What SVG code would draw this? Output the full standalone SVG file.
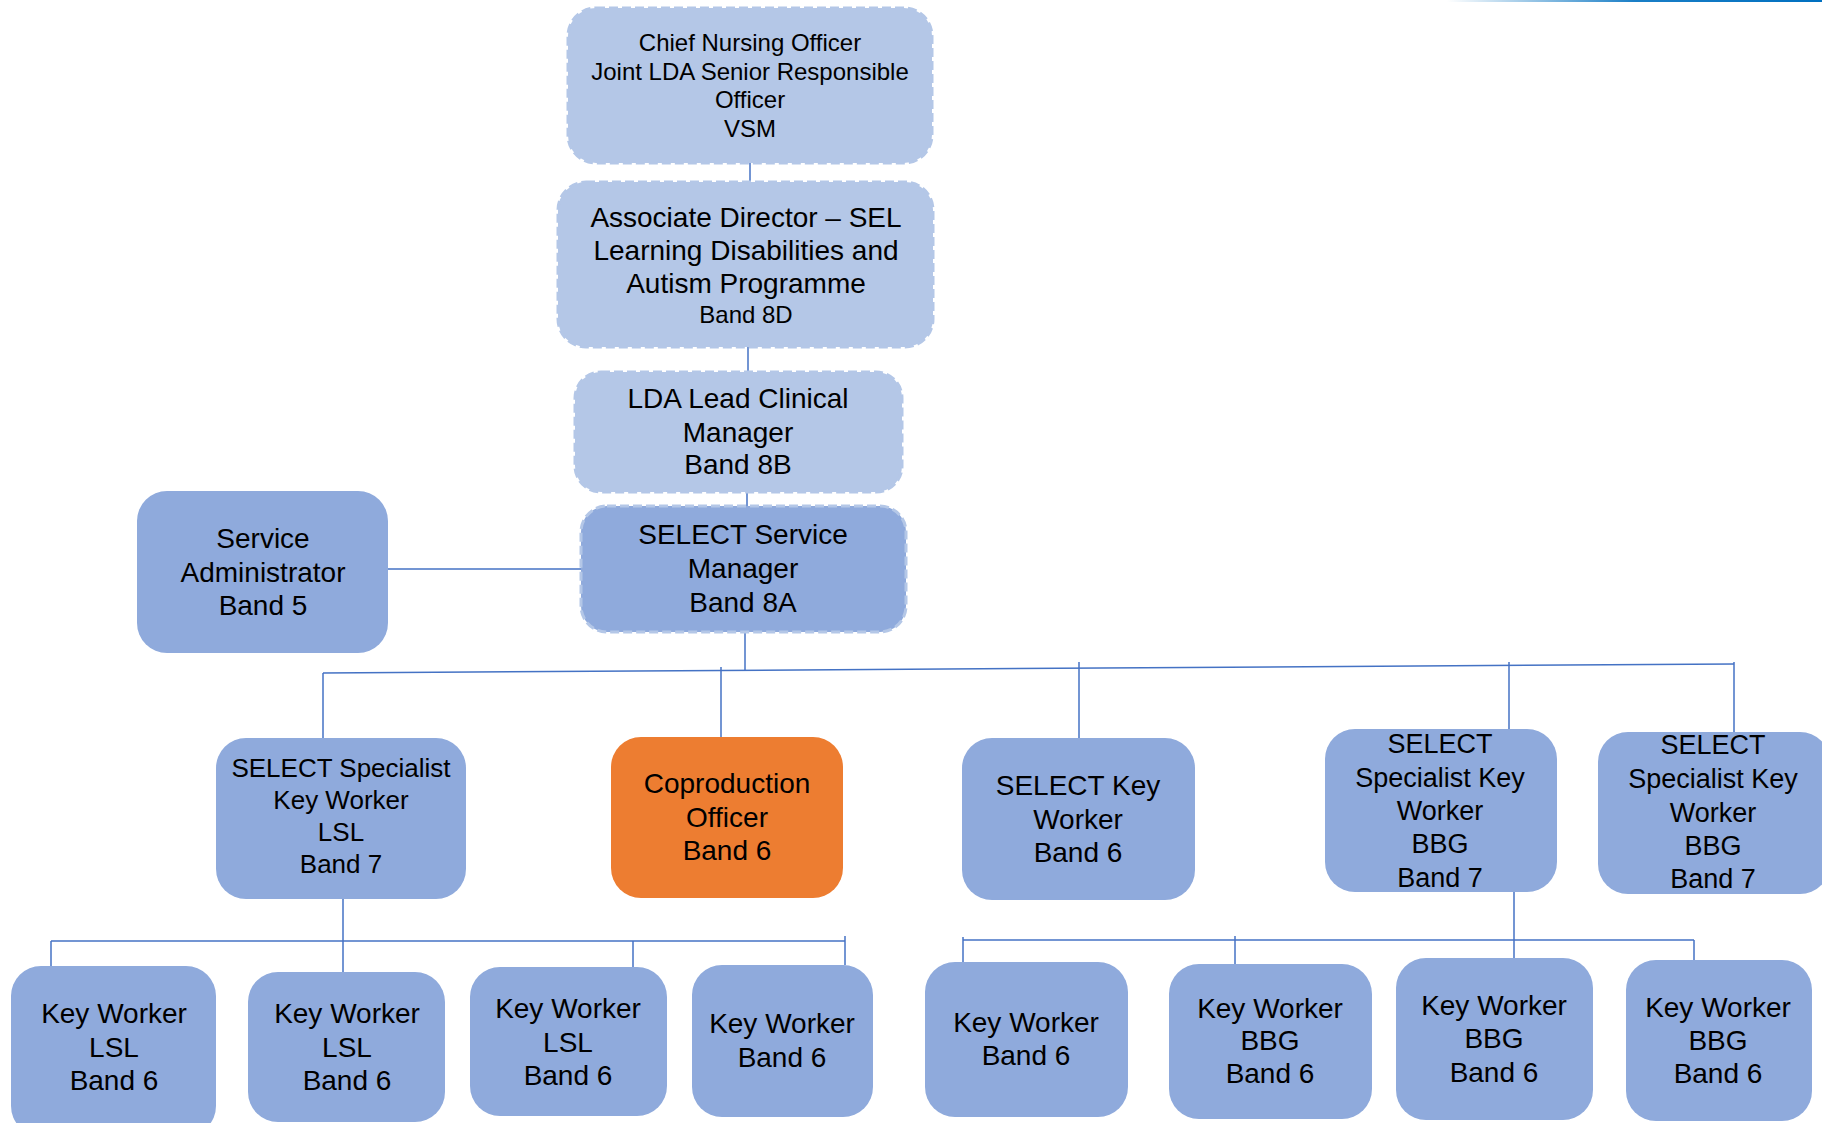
<svg xmlns="http://www.w3.org/2000/svg" width="1822" height="1123" viewBox="0 0 1822 1123">
<defs>
<linearGradient id="topline" x1="0" y1="0" x2="1" y2="0">
<stop offset="0" stop-color="#0070C0" stop-opacity="0"/>
<stop offset="0.5" stop-color="#0070C0" stop-opacity="0.9"/>
<stop offset="1" stop-color="#0070C0"/>
</linearGradient>
</defs>
<style>
text{font-family:"Liberation Sans",Arial,sans-serif;fill:#000;text-anchor:middle}
.light{fill:#B4C7E7;stroke:#B4C7E7;stroke-width:3;stroke-dasharray:9 4}
.mid{fill:#8FAADC;stroke:#B4C7E7;stroke-width:3;stroke-dasharray:9 4}
.blue{fill:#8FAADC}
.orange{fill:#ED7D31}
.conn line{stroke:#4472C4;stroke-width:1.5}
.f24{font-size:24px}
.f26{font-size:26px}
.f27{font-size:27px}
.f28{font-size:28px}
</style>
<rect x="1447" y="0" width="375" height="2" fill="url(#topline)"/>
<g id="connectors" class="conn">
<line x1="750" y1="163" x2="750" y2="182"/>
<line x1="748" y1="347" x2="748" y2="372"/>
<line x1="747" y1="492" x2="747" y2="506"/>
<line x1="388" y1="569" x2="581" y2="569"/>
<line x1="745" y1="632" x2="745" y2="670"/>
<line x1="323" y1="673" x2="1734" y2="664"/>
<line x1="323" y1="673" x2="323" y2="738"/>
<line x1="721" y1="667" x2="721" y2="737"/>
<line x1="1079" y1="662" x2="1079" y2="738"/>
<line x1="1509" y1="662" x2="1509" y2="729"/>
<line x1="1734" y1="662" x2="1734" y2="732"/>
<line x1="343" y1="899" x2="343" y2="972"/>
<line x1="51" y1="941" x2="845" y2="941"/>
<line x1="51" y1="941" x2="51" y2="966"/>
<line x1="633" y1="941" x2="633" y2="967"/>
<line x1="845" y1="936" x2="845" y2="965"/>
<line x1="1514" y1="892" x2="1514" y2="958"/>
<line x1="963" y1="940" x2="1694" y2="940"/>
<line x1="963" y1="937" x2="963" y2="962"/>
<line x1="1235" y1="936" x2="1235" y2="964"/>
<line x1="1694" y1="940" x2="1694" y2="960"/>
</g>
<g id="chief-nursing-officer">
<rect class="light" x="568" y="8" width="364" height="155" rx="28"/>
<text class="f24" x="750" y="51">Chief Nursing Officer</text>
<text class="f24" x="750" y="80">Joint LDA Senior Responsible</text>
<text class="f24" x="750" y="108">Officer</text>
<text class="f24" x="750" y="137">VSM</text>
</g>
<g id="associate-director">
<rect class="light" x="558" y="182" width="375" height="165" rx="28"/>
<text class="f28" x="746" y="227">Associate Director – SEL</text>
<text class="f28" x="746" y="260">Learning Disabilities and</text>
<text class="f28" x="746" y="293">Autism Programme</text>
<text class="f24" x="746" y="323">Band 8D</text>
</g>
<g id="lda-lead-clinical-manager">
<rect class="light" x="575" y="372" width="327" height="120" rx="26"/>
<text class="f28" x="738" y="408">LDA Lead Clinical</text>
<text class="f28" x="738" y="442">Manager</text>
<text class="f28" x="738" y="474">Band 8B</text>
</g>
<g id="select-service-manager">
<rect class="mid" x="581" y="506" width="325" height="126" rx="26"/>
<text class="f28" x="743" y="544">SELECT Service</text>
<text class="f28" x="743" y="578">Manager</text>
<text class="f28" x="743" y="612">Band 8A</text>
</g>
<g id="service-administrator">
<rect class="blue" x="137" y="491" width="251" height="162" rx="30"/>
<text class="f28" x="263" y="548">Service</text>
<text class="f28" x="263" y="582">Administrator</text>
<text class="f28" x="263" y="615">Band 5</text>
</g>
<g id="specialist-key-worker-lsl">
<rect class="blue" x="216" y="738" width="250" height="161" rx="30"/>
<text class="f26" x="341" y="777">SELECT Specialist</text>
<text class="f26" x="341" y="809">Key Worker</text>
<text class="f26" x="341" y="841">LSL</text>
<text class="f26" x="341" y="873">Band 7</text>
</g>
<g id="coproduction-officer">
<rect class="orange" x="611" y="737" width="232" height="161" rx="30"/>
<text class="f28" x="727" y="793">Coproduction</text>
<text class="f28" x="727" y="827">Officer</text>
<text class="f28" x="727" y="860">Band 6</text>
</g>
<g id="select-key-worker">
<rect class="blue" x="962" y="738" width="233" height="162" rx="30"/>
<text class="f28" x="1078" y="795">SELECT Key</text>
<text class="f28" x="1078" y="829">Worker</text>
<text class="f28" x="1078" y="862">Band 6</text>
</g>
<g id="specialist-key-worker-bbg-1">
<rect class="blue" x="1325" y="729" width="232" height="163" rx="30"/>
<text class="f27" x="1440" y="753">SELECT</text>
<text class="f27" x="1440" y="787">Specialist Key</text>
<text class="f27" x="1440" y="820">Worker</text>
<text class="f27" x="1440" y="853">BBG</text>
<text class="f27" x="1440" y="887">Band 7</text>
</g>
<g id="specialist-key-worker-bbg-2">
<rect class="blue" x="1598" y="732" width="232" height="162" rx="30"/>
<text class="f27" x="1713" y="754">SELECT</text>
<text class="f27" x="1713" y="788">Specialist Key</text>
<text class="f27" x="1713" y="822">Worker</text>
<text class="f27" x="1713" y="855">BBG</text>
<text class="f27" x="1713" y="888">Band 7</text>
</g>
<g id="key-worker-lsl-1">
<rect class="blue" x="11" y="966" width="205" height="170" rx="30"/>
<text class="f28" x="114" y="1023">Key Worker</text>
<text class="f28" x="114" y="1057">LSL</text>
<text class="f28" x="114" y="1090">Band 6</text>
</g>
<g id="key-worker-lsl-2">
<rect class="blue" x="248" y="972" width="197" height="150" rx="30"/>
<text class="f28" x="347" y="1023">Key Worker</text>
<text class="f28" x="347" y="1057">LSL</text>
<text class="f28" x="347" y="1090">Band 6</text>
</g>
<g id="key-worker-lsl-3">
<rect class="blue" x="470" y="967" width="197" height="149" rx="30"/>
<text class="f28" x="568" y="1018">Key Worker</text>
<text class="f28" x="568" y="1052">LSL</text>
<text class="f28" x="568" y="1085">Band 6</text>
</g>
<g id="key-worker-4">
<rect class="blue" x="692" y="965" width="181" height="152" rx="30"/>
<text class="f28" x="782" y="1033">Key Worker</text>
<text class="f28" x="782" y="1067">Band 6</text>
</g>
<g id="key-worker-5">
<rect class="blue" x="925" y="962" width="203" height="155" rx="30"/>
<text class="f28" x="1026" y="1032">Key Worker</text>
<text class="f28" x="1026" y="1065">Band 6</text>
</g>
<g id="key-worker-bbg-1">
<rect class="blue" x="1169" y="964" width="203" height="155" rx="30"/>
<text class="f28" x="1270" y="1018">Key Worker</text>
<text class="f28" x="1270" y="1050">BBG</text>
<text class="f28" x="1270" y="1083">Band 6</text>
</g>
<g id="key-worker-bbg-2">
<rect class="blue" x="1396" y="958" width="197" height="162" rx="30"/>
<text class="f28" x="1494" y="1015">Key Worker</text>
<text class="f28" x="1494" y="1048">BBG</text>
<text class="f28" x="1494" y="1082">Band 6</text>
</g>
<g id="key-worker-bbg-3">
<rect class="blue" x="1626" y="960" width="186" height="161" rx="30"/>
<text class="f28" x="1718" y="1017">Key Worker</text>
<text class="f28" x="1718" y="1050">BBG</text>
<text class="f28" x="1718" y="1083">Band 6</text>
</g>
</svg>
